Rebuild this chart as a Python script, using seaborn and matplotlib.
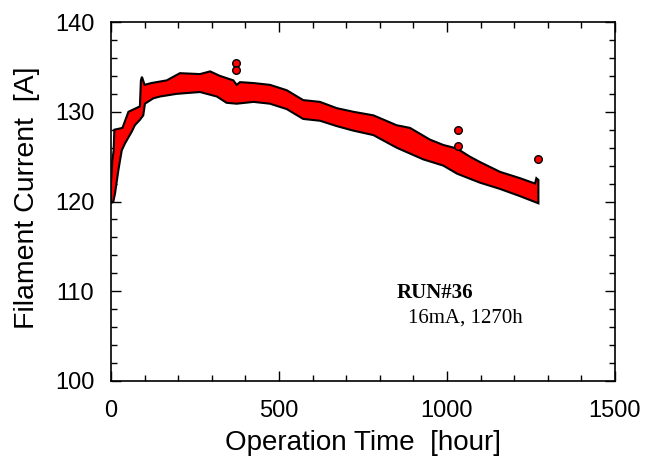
import numpy as np
import pandas as pd
import matplotlib
matplotlib.use("Agg")
import matplotlib.pyplot as plt
from matplotlib.ticker import MultipleLocator
import seaborn as sns

# Oberer Rand des Messbandes (Zeit [h], Strom [A])
upper_time = [0, 4, 8, 10, 34, 38, 44, 52, 86, 89, 92, 100, 120, 166, 205, 265,
              295, 324, 364, 374, 384, 424, 473, 523, 572, 622, 672, 721, 781,
              850, 890, 949, 989, 1030, 1068, 1098, 1158, 1217, 1262, 1266, 1272]
upper_current = [122.0, 124.6, 125.7, 128.0, 128.2, 128.6, 129.2, 130.0, 130.6,
                 133.5, 133.9, 133.0, 133.2, 133.5, 134.3, 134.2, 134.5, 134.0,
                 133.5, 133.0, 133.3, 133.2, 133.0, 132.4, 131.3, 131.1, 130.4,
                 130.0, 129.6, 128.5, 128.2, 126.9, 126.3, 125.9, 125.0, 124.4,
                 123.3, 122.6, 122.0, 122.6, 122.4]

# Unterer Rand des Messbandes
lower_time = [0, 7, 12, 22, 32, 42, 62, 71, 86, 96, 101, 126, 146, 196, 265, 315,
              344, 374, 424, 473, 523, 572, 622, 672, 721, 781, 850, 929, 989,
              1030, 1098, 1158, 1217, 1272]
lower_current = [119.8, 120.0, 120.9, 123.5, 125.7, 126.5, 127.8, 128.5, 129.1,
                 129.6, 130.9, 131.5, 131.7, 132.0, 132.2, 131.7, 131.0, 130.9,
                 131.1, 130.9, 130.3, 129.2, 129.0, 128.4, 127.9, 127.4, 126.0,
                 124.7, 124.0, 123.1, 122.1, 121.4, 120.6, 119.8]

# Ausreisser
spike_time = [372, 372, 1034, 1034, 1270]
spike_current = [135.4, 134.6, 128.0, 126.2, 124.7]

sns.set_style("ticks")
plt.rcParams["font.family"] = ["Liberation Sans", "DejaVu Sans"]
plt.rcParams["text.color"] = "black"
plt.rcParams["axes.labelcolor"] = "black"
plt.rcParams["xtick.color"] = "black"
plt.rcParams["ytick.color"] = "black"

fig = plt.figure(figsize=(6.56, 4.59), dpi=100)
ax = fig.add_axes([0.1692, 0.170, 0.7683, 0.782])

# Band als Polygon (oben hin, unten zurueck)
band_t = np.concatenate([upper_time, lower_time[::-1]])
band_i = np.concatenate([upper_current, lower_current[::-1]])
ax.fill(band_t, band_i, facecolor="#ff0000", edgecolor="black", linewidth=1.5,
        joinstyle="miter", zorder=2)

spikes = pd.DataFrame({"t": spike_time, "I": spike_current})
sns.scatterplot(data=spikes, x="t", y="I", ax=ax, color="#ff0000",
                edgecolor="black", linewidth=1.0, s=30, zorder=3, legend=False)

ax.set_xlim(0, 1500)
ax.set_ylim(100, 140)
ax.xaxis.set_major_locator(MultipleLocator(500))
ax.xaxis.set_minor_locator(MultipleLocator(100))
ax.yaxis.set_major_locator(MultipleLocator(10))
ax.yaxis.set_minor_locator(MultipleLocator(2))
ax.tick_params(which="both", direction="in", top=True, right=True,
               width=1.0, color="black", labelcolor="black")
ax.tick_params(which="major", length=7.5, labelsize=17)
ax.tick_params(axis="x", which="major", pad=13.5)
ax.tick_params(axis="y", which="major", pad=12)
ax.tick_params(which="minor", length=4)
for sp in ax.spines.values():
    sp.set_visible(True)
    sp.set_linewidth(1.2)
    sp.set_color("black")

ax.set_xlabel("Operation Time  [hour]", fontsize=20, labelpad=6)
ax.set_ylabel("Filament Current  [A]", fontsize=20.5)
ax.yaxis.set_label_coords(-0.141, 0.51)

ax.text(851, 109.8, "RUN#36", fontsize=15, fontweight="bold",
        family="Liberation Serif", va="center", ha="left")
ax.text(884, 107.0, "16mA, 1270h", fontsize=15,
        family="Liberation Serif", va="center", ha="left")

fig.savefig("out.png", dpi=100)
